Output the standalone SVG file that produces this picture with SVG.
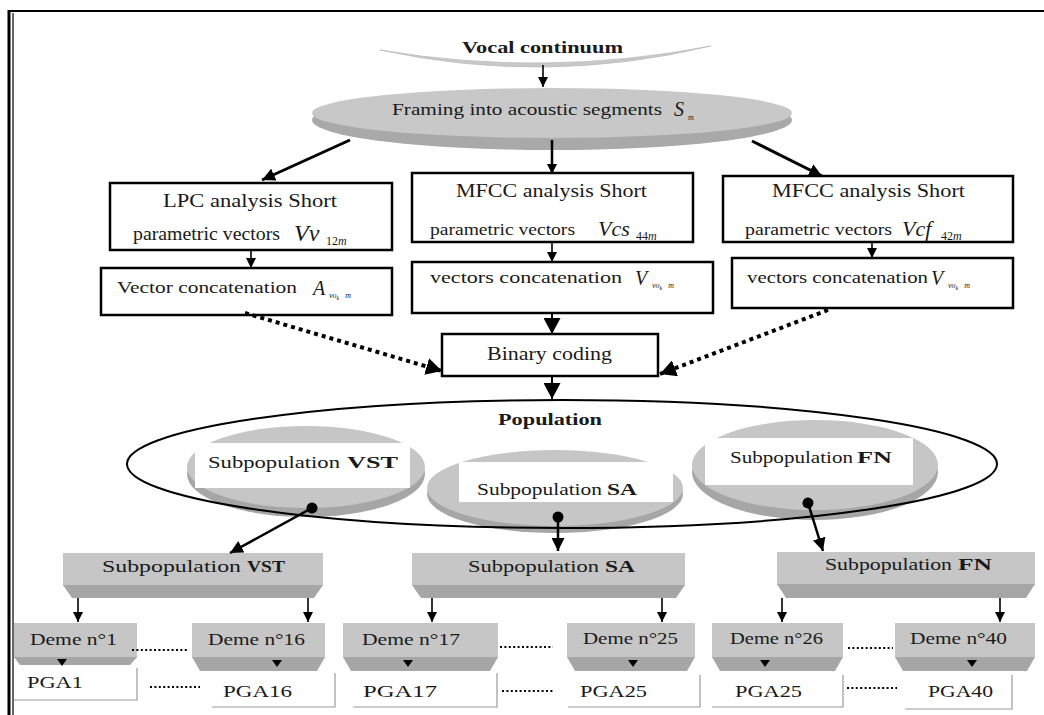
<svg xmlns="http://www.w3.org/2000/svg" width="1044" height="715" viewBox="0 0 1044 715" font-family="'Liberation Serif', 'Times New Roman', serif">
<defs>
<style>
text{font-family:"Liberation Serif","Times New Roman",serif;fill:#1a1a1a}
.b{font-weight:bold}
.it{font-style:italic}
.t17{font-size:17px}
.t19{font-size:19px}
.t16{font-size:16px}
.sub{font-size:12px}
.tiny{font-size:8px}
.ln{stroke:#000;fill:none}
.thin{stroke-width:1.6}
.thick{stroke-width:3}
.dash{stroke-width:4;stroke-dasharray:4 4}
.box{fill:#fff;stroke:#000;stroke-width:2.5}
.lg{fill:#c6c6c6}
.dg{fill:#a6a6a6}
.sh{stroke:#9a9a9a;stroke-width:1.2;fill:none}
.dots{stroke:#000;stroke-width:2;stroke-dasharray:2 2.4;fill:none}
</style>
<marker id="ah" markerUnits="userSpaceOnUse" markerWidth="10" markerHeight="10" refX="10" refY="5" orient="auto"><path d="M0,0 L10,5 L0,10 z" fill="#000"/></marker>
<marker id="ahm" markerUnits="userSpaceOnUse" markerWidth="13" markerHeight="13" refX="13" refY="6.5" orient="auto"><path d="M0,0 L13,6.5 L0,13 z" fill="#000"/></marker>
<marker id="ahb" markerUnits="userSpaceOnUse" markerWidth="17" markerHeight="17" refX="16" refY="8.5" orient="auto"><path d="M0,0 L16,8.5 L0,17 z" fill="#000"/></marker>
<marker id="ball" markerUnits="userSpaceOnUse" markerWidth="12" markerHeight="12" refX="6" refY="6" orient="auto"><circle cx="6" cy="6" r="5.5" fill="#000"/></marker>
</defs>
<rect width="1044" height="715" fill="#fff"/>
<g id="frame">
<line x1="8" y1="11" x2="1044" y2="11" stroke="#000" stroke-width="2"/>
<line x1="9" y1="10" x2="9" y2="715" stroke="#000" stroke-width="3"/>
<line x1="13" y1="13" x2="13" y2="715" stroke="#000" stroke-width="1.2"/>
</g>

<g id="vocal">
<path d="M380,50 Q545,86 711,46 Q545,78 380,50 Z" fill="#c8c8c8" stroke="#bdbdbd" stroke-width="0.8"/>
<text class="b t17" x="462" y="53" textLength="161" lengthAdjust="spacingAndGlyphs">Vocal continuum</text>
</g>

<g id="framing">
<ellipse cx="552" cy="120" rx="240" ry="30" fill="#a9a9a9"/>
<ellipse cx="552" cy="113" rx="240" ry="25" fill="#c8c8c8"/>
<text class="t17" x="392" y="115" textLength="270" lengthAdjust="spacingAndGlyphs">Framing into acoustic segments</text>
<text class="it" font-size="20" x="674" y="116">S</text>
<text class="it" font-size="8" x="688" y="120">m</text>
</g>

<g id="lpc">
<rect class="box" x="110" y="183" width="282" height="67"/>
<text class="t19" x="163" y="207" textLength="174" lengthAdjust="spacingAndGlyphs">LPC analysis Short</text>
<text class="t19" x="133" y="240" textLength="147" lengthAdjust="spacingAndGlyphs">parametric vectors</text>
<text class="it" font-size="24" x="294" y="241">Vv</text>
<text class="sub" x="326" y="245">12<tspan class="it">m</tspan></text>
</g>

<g id="lpc-concat">
<rect class="box" x="101" y="268" width="291" height="47"/>
<text class="t16" x="117" y="293" textLength="180" lengthAdjust="spacingAndGlyphs">Vector concatenation</text>
<text class="it" font-size="20" x="313" y="295">A</text>
<text class="tiny it" x="329" y="298">vo<tspan font-size="6" dy="2">k</tspan><tspan dx="6" dy="-2">m</tspan></text>
</g>

<g id="mfcc-s">
<rect class="box" x="412" y="173" width="281" height="69"/>
<text class="t19" x="456" y="197" textLength="191" lengthAdjust="spacingAndGlyphs">MFCC analysis Short</text>
<text class="t16" x="430" y="235" textLength="145" lengthAdjust="spacingAndGlyphs">parametric vectors</text>
<text class="it" font-size="22" x="598" y="236">Vcs</text>
<text class="sub" x="636" y="240">44<tspan class="it">m</tspan></text>
</g>

<g id="mfcc-s-concat">
<rect class="box" x="412" y="262" width="301" height="51"/>
<text class="t16" x="430" y="283" textLength="192" lengthAdjust="spacingAndGlyphs">vectors  concatenation</text>
<text class="it" font-size="20" x="635" y="285">V</text>
<text class="tiny it" x="652" y="288">vo<tspan font-size="6" dy="2">k</tspan><tspan dx="6" dy="-2">m</tspan></text>
</g>

<g id="mfcc-f">
<rect class="box" x="723" y="176" width="290" height="66"/>
<text class="t19" x="772" y="197" textLength="193" lengthAdjust="spacingAndGlyphs">MFCC analysis Short</text>
<text class="t16" x="745" y="235" textLength="147" lengthAdjust="spacingAndGlyphs">parametric vectors</text>
<text class="it" font-size="22" x="902" y="236">Vcf</text>
<text class="sub" x="941" y="240">42<tspan class="it">m</tspan></text>
</g>

<g id="mfcc-f-concat">
<rect class="box" x="732" y="258" width="281" height="50"/>
<text class="t16" x="747" y="283" textLength="181" lengthAdjust="spacingAndGlyphs">vectors  concatenation</text>
<text class="it" font-size="20" x="931" y="285">V</text>
<text class="tiny it" x="948" y="288">vo<tspan font-size="6" dy="2">k</tspan><tspan dx="6" dy="-2">m</tspan></text>
</g>

<g id="binary">
<rect class="box" x="442" y="334" width="216" height="42"/>
<text class="t19" x="487" y="360" textLength="125" lengthAdjust="spacingAndGlyphs">Binary coding</text>
</g>

<g id="sub-vst">
<ellipse cx="306" cy="474" rx="119" ry="43" class="dg"/>
<ellipse cx="306" cy="467" rx="119" ry="41" class="lg"/>
<rect x="195" y="443" width="215" height="45" fill="#fff"/>
<text class="t17" x="208" y="468" textLength="132" lengthAdjust="spacingAndGlyphs">Subpopulation</text>
<text class="t17 b" x="347" y="468" textLength="51" lengthAdjust="spacingAndGlyphs">VST</text>
</g>
<g id="sub-sa">
<ellipse cx="555" cy="494" rx="128" ry="39" class="dg"/>
<ellipse cx="555" cy="488" rx="128" ry="38" class="lg"/>
<rect x="459" y="462" width="214" height="40" fill="#fff"/>
<text class="t17" x="477" y="495" textLength="125" lengthAdjust="spacingAndGlyphs">Subpopulation</text>
<text class="t17 b" x="607" y="495" textLength="30" lengthAdjust="spacingAndGlyphs">SA</text>
</g>
<g id="sub-fn">
<ellipse cx="815" cy="472" rx="123" ry="48" class="dg"/>
<ellipse cx="815" cy="465" rx="123" ry="45" class="lg"/>
<rect x="705" y="438" width="208" height="47" fill="#fff"/>
<text class="t17" x="730" y="463" textLength="123" lengthAdjust="spacingAndGlyphs">Subpopulation</text>
<text class="t17 b" x="857" y="463" textLength="35" lengthAdjust="spacingAndGlyphs">FN</text>
</g>

<g id="population">
<ellipse cx="562" cy="464" rx="435" ry="64" fill="none" stroke="#000" stroke-width="2"/>
<text class="b t17" x="498" y="425" textLength="104" lengthAdjust="spacingAndGlyphs">Population</text>
</g>

<g id="blk-vst">
<rect x="63" y="553" width="260" height="33" class="lg"/>
<path d="M63,585 L323,585 L314,598 L72,598 Z" class="dg"/>
<text class="t17" x="102" y="572" textLength="139" lengthAdjust="spacingAndGlyphs">Subpopulation</text>
<text class="t17 b" x="247" y="572" textLength="38" lengthAdjust="spacingAndGlyphs">VST</text>
</g>
<g id="blk-sa">
<rect x="412" y="553" width="273" height="33" class="lg"/>
<path d="M412,585 L685,585 L676,598 L421,598 Z" class="dg"/>
<text class="t17" x="468" y="572" textLength="131" lengthAdjust="spacingAndGlyphs">Subpopulation</text>
<text class="t17 b" x="605" y="572" textLength="30" lengthAdjust="spacingAndGlyphs">SA</text>
</g>
<g id="blk-fn">
<rect x="777" y="552" width="258" height="33" class="lg"/>
<path d="M777,584 L1035,584 L1026,598 L786,598 Z" class="dg"/>
<text class="t17" x="825" y="570" textLength="127" lengthAdjust="spacingAndGlyphs">Subpopulation</text>
<text class="t17 b" x="958" y="570" textLength="34" lengthAdjust="spacingAndGlyphs">FN</text>
</g>

<g id="deme1">
<rect x="14" y="623" width="123" height="35" class="lg"/>
<path d="M14,657 L137,657 L130,665 L20,665 Z" class="dg"/>
<path d="M57,659 L67,659 L62,666 Z" fill="#000"/>
<text class="t16" x="30" y="645" textLength="87" lengthAdjust="spacingAndGlyphs">Deme n°1</text>
</g>
<g id="deme16">
<rect x="192" y="623" width="133" height="35" class="lg"/>
<path d="M192,657 L325,657 L317,671 L200,671 Z" class="dg"/>
<path d="M272,660 L282,660 L277,667 Z" fill="#000"/>
<text class="t16" x="208" y="645" textLength="97" lengthAdjust="spacingAndGlyphs">Deme n°16</text>
</g>
<g id="deme17">
<rect x="343" y="623" width="155" height="35" class="lg"/>
<path d="M343,657 L498,657 L490,671 L351,671 Z" class="dg"/>
<path d="M403,660 L413,660 L408,667 Z" fill="#000"/>
<text class="t16" x="362" y="645" textLength="98" lengthAdjust="spacingAndGlyphs">Deme n°17</text>
</g>
<g id="deme25">
<rect x="567" y="623" width="128" height="35" class="lg"/>
<path d="M567,657 L695,657 L687,671 L575,671 Z" class="dg"/>
<path d="M628,660 L638,660 L633,667 Z" fill="#000"/>
<text class="t16" x="583" y="644" textLength="95" lengthAdjust="spacingAndGlyphs">Deme n°25</text>
</g>
<g id="deme26">
<rect x="712" y="623" width="131" height="35" class="lg"/>
<path d="M712,657 L843,657 L835,671 L720,671 Z" class="dg"/>
<path d="M760,660 L770,660 L765,667 Z" fill="#000"/>
<text class="t16" x="730" y="644" textLength="93" lengthAdjust="spacingAndGlyphs">Deme n°26</text>
</g>
<g id="deme40">
<rect x="895" y="623" width="140" height="35" class="lg"/>
<path d="M895,657 L1035,657 L1027,671 L903,671 Z" class="dg"/>
<path d="M967,660 L977,660 L972,667 Z" fill="#000"/>
<text class="t16" x="910" y="644" textLength="97" lengthAdjust="spacingAndGlyphs">Deme n°40</text>
</g>

<g id="pga1"><path class="sh" d="M137,668 L137,700 L14,700"/><text class="t17" x="27" y="688" textLength="56" lengthAdjust="spacingAndGlyphs">PGA1</text></g>
<g id="pga16"><path class="sh" d="M335,673 L335,707 L212,707"/><text class="t17" x="223" y="697" textLength="69" lengthAdjust="spacingAndGlyphs">PGA16</text></g>
<g id="pga17"><path class="sh" d="M497,673 L497,707 L353,707"/><text class="t17" x="363" y="697" textLength="74" lengthAdjust="spacingAndGlyphs">PGA17</text></g>
<g id="pga25a"><path class="sh" d="M700,675 L700,707 L568,707"/><text class="t17" x="580" y="697" textLength="67" lengthAdjust="spacingAndGlyphs">PGA25</text></g>
<g id="pga25b"><path class="sh" d="M843,675 L843,707 L712,707"/><text class="t17" x="735" y="697" textLength="67" lengthAdjust="spacingAndGlyphs">PGA25</text></g>
<g id="pga40"><path class="sh" d="M1012,675 L1012,709 L905,709"/><text class="t17" x="928" y="697" textLength="65" lengthAdjust="spacingAndGlyphs">PGA40</text></g>

<g id="connectors">
<line class="ln thin" x1="543" y1="65" x2="543" y2="87" marker-end="url(#ah)"/>
<line class="ln thick" x1="350" y1="140" x2="262" y2="180" marker-end="url(#ahm)"/>
<line class="ln" stroke-width="2.5" x1="552" y1="140" x2="552" y2="174" marker-end="url(#ah)"/>
<line class="ln thick" x1="752" y1="141" x2="822" y2="176" marker-end="url(#ahm)"/>
<line class="ln thin" x1="251" y1="250" x2="251" y2="268" marker-end="url(#ah)"/>
<line class="ln thin" x1="552" y1="242" x2="552" y2="262" marker-end="url(#ah)"/>
<line class="ln thin" x1="872" y1="242" x2="872" y2="258" marker-end="url(#ah)"/>
<line class="ln" stroke-width="2" x1="552" y1="313" x2="552" y2="334" marker-end="url(#ahb)"/>
<line class="ln" stroke-width="2" x1="552" y1="376" x2="552" y2="399" marker-end="url(#ahb)"/>
<line class="ln dash" x1="245" y1="313" x2="442" y2="371" marker-end="url(#ahb)"/>
<line class="ln dash" x1="828" y1="310" x2="660" y2="374" marker-end="url(#ahb)"/>
<line class="ln" stroke-width="2.5" x1="312" y1="508" x2="230" y2="553" marker-start="url(#ball)" marker-end="url(#ahm)"/>
<line class="ln" stroke-width="2.5" x1="558" y1="517" x2="558" y2="551" marker-start="url(#ball)" marker-end="url(#ahm)"/>
<line class="ln" stroke-width="2.5" x1="808" y1="503" x2="823" y2="551" marker-start="url(#ball)" marker-end="url(#ahm)"/>
<line class="ln thin" x1="78" y1="598" x2="78" y2="622" marker-end="url(#ah)"/>
<line class="ln thin" x1="308" y1="598" x2="308" y2="622" marker-end="url(#ah)"/>
<line class="ln thin" x1="432" y1="598" x2="432" y2="622" marker-end="url(#ah)"/>
<line class="ln thin" x1="662" y1="598" x2="662" y2="622" marker-end="url(#ah)"/>
<line class="ln thin" x1="782" y1="598" x2="782" y2="622" marker-end="url(#ah)"/>
<line class="ln thin" x1="1000" y1="598" x2="1000" y2="622" marker-end="url(#ah)"/>
<line class="dots" x1="132" y1="650" x2="188" y2="650"/>
<line class="dots" x1="500" y1="647" x2="553" y2="647"/>
<line class="dots" x1="848" y1="648" x2="893" y2="648"/>
<line class="dots" x1="150" y1="687" x2="200" y2="687"/>
<line class="dots" x1="502" y1="691" x2="553" y2="691"/>
<line class="dots" x1="847" y1="688" x2="897" y2="688"/>
</g>
</svg>
